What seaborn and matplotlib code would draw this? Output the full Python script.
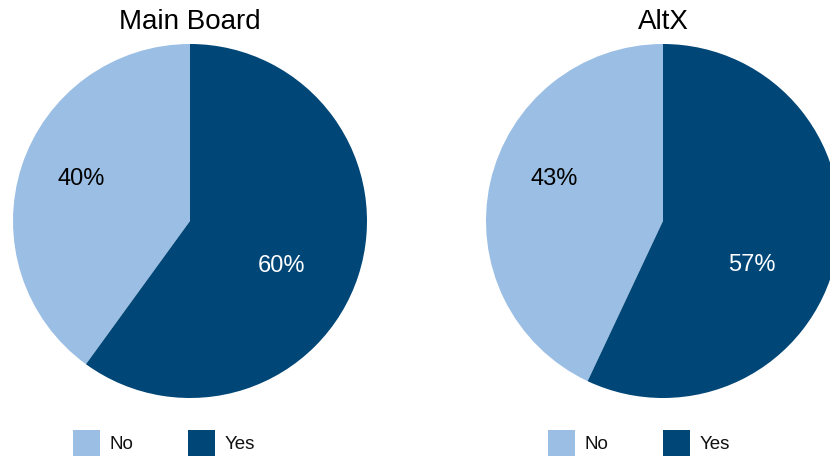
import matplotlib
matplotlib.use("Agg")
import matplotlib.pyplot as plt
import seaborn as sns
from matplotlib.patches import Patch

# data
panels = ["Main Board", "AltX"]
answers = ["No", "Yes"]
main_board = [40, 60]
altx = [43, 57]

sns.set_theme(style="white")
plt.rcParams["font.family"] = ["Liberation Sans", "DejaVu Sans"]

colors = ["#9bbfe4", "#004677"]
label_colors = ["black", "white"]
# label positions inside each pie (data units, radius = 1)
label_pos = {
    "Main Board": [(-0.613, 0.237), (0.517, -0.257)],
    "AltX": [(-0.613, 0.237), (0.50, -0.249)],
}

W, H = 830, 457
fig = plt.figure(figsize=(W / 100, H / 100), dpi=100)
fig.patch.set_facecolor("white")

# pie boxes in pixels: left, top, size
boxes = [(13, 44, 354), (486, 44, 354)]
legend_x = [73, 548]

for name, values, (px, py, size), lx in zip(panels, [main_board, altx], boxes, legend_x):
    ax = fig.add_axes([px / W, 1 - (py + size) / H, size / W, size / H])
    wedges, _ = ax.pie(values, colors=colors, startangle=90, counterclock=True,
                       radius=1, wedgeprops=dict(linewidth=0))
    ax.set_xlim(-1, 1)
    ax.set_ylim(-1, 1)
    ax.set_aspect("equal")
    ax.axis("off")
    for v, (tx, ty), c in zip(values, label_pos[name], label_colors):
        ax.text(tx, ty, f"{v}%", ha="center", va="center", color=c, fontsize=17)
    ax.set_title(name, fontsize=20, pad=11, color="black")

    handles = [Patch(facecolor=c, edgecolor="none") for c in colors]
    leg = fig.legend(handles, answers, loc="upper left", ncol=2, frameon=False,
                     bbox_to_anchor=(lx / W, 1 - 430 / H), borderpad=0, borderaxespad=0,
                     fontsize=13.5, handlelength=1.45, handleheight=1.72,
                     handletextpad=0.5, columnspacing=2.9)
    for t in leg.get_texts():
        t.set_color("#111111")

fig.savefig("out.png", dpi=100)
